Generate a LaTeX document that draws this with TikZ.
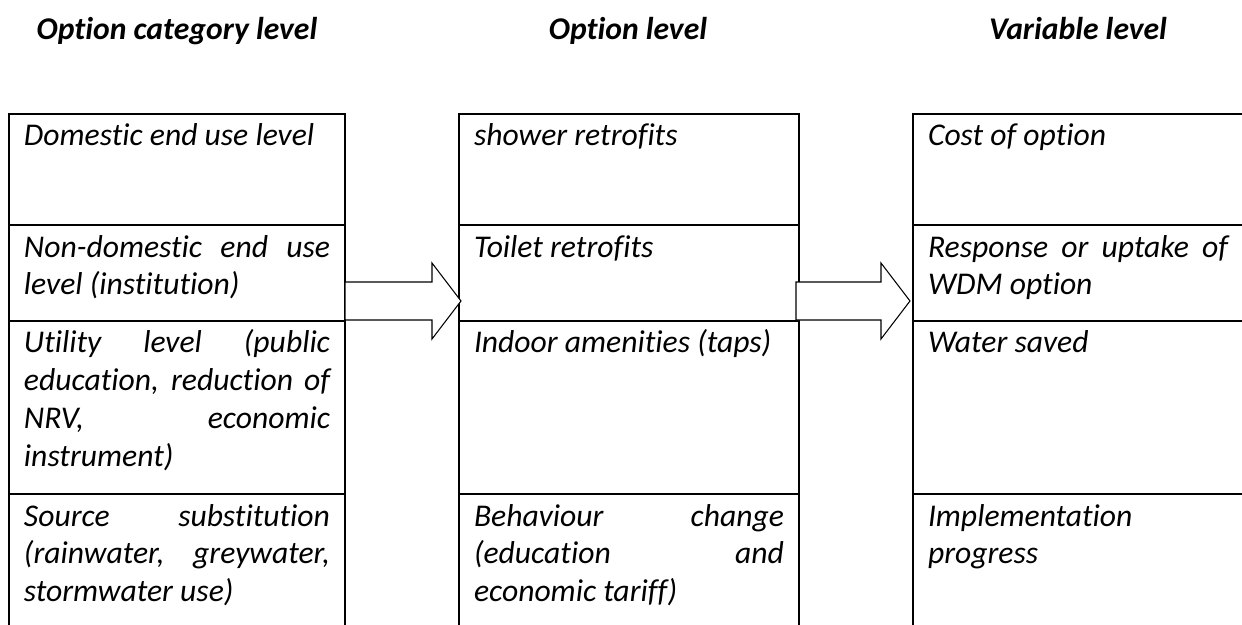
\documentclass[tikz,border=0pt]{standalone}
\usepackage{fontspec}
\setmainfont{Carlito}[Ligatures=CommonOff]
\usetikzlibrary{positioning,calc}

\hyphenpenalty=10000
\exhyphenpenalty=10000

\tikzset{
  cell/.style={draw, line width=1.1pt, rectangle, anchor=north west, outer sep=0pt,
    inner xsep=0.3cm, inner ysep=0pt, align=justify, text height=0.64cm,
    font=\fontsize{18}{21.5}\selectfont\itshape},
  head/.style={anchor=base, font=\fontsize{18}{21.5}\selectfont\bfseries\itshape},
  barrow/.style={draw, fill=white, line width=0.6pt, line join=miter}
}

% block arrow between two named points
\newcommand{\blockarrow}[2]{%
  \draw[barrow] ($(#1)+(0,0.38)$) -- ($(#2)+(-0.58,0.38)$) -- ++(0,0.38) -- (#2)
    -- ++(-0.58,-0.76) -- ++(0,0.38) -- ($(#1)+(0,-0.38)$) -- cycle;}

\begin{document}
\begin{tikzpicture}
    \useasboundingbox (0,0) rectangle (24.84,-12.5);
    \clip (0,0) rectangle (24.84,-12.5);

    % Headers
    \node[head] (h1) at (3.54,-0.8) {Option category level};
    \node[head] (h2) at (12.56,-0.8) {Option level};
    \node[head] (h3) at (21.56,-0.8) {Variable level};

    % Option category column
    \node[cell, text width=6.12cm, text depth=1.58cm] (c11) at (0.18,-2.28) {Domestic end use level};
    \node[cell, text width=6.12cm, text depth=1.28cm, below=0pt of c11.south west, anchor=north west] (c12) {Non-domestic end use\linebreak level (institution)};
    \node[cell, text width=6.12cm, text depth=2.82cm, below=0pt of c12.south west, anchor=north west] (c13) {Utility level (public\linebreak education, reduction of\linebreak NRV, economic\linebreak instrument)};
    \node[cell, text width=6.12cm, text depth=2.6cm, below=0pt of c13.south west, anchor=north west] (c14) {Source substitution\linebreak (rainwater, greywater,\linebreak stormwater use)};

    % Option column
    \node[cell, text width=6.2cm, text depth=1.58cm] (c21) at (9.18,-2.28) {shower retrofits};
    \node[cell, text width=6.2cm, text depth=1.28cm, below=0pt of c21.south west, anchor=north west] (c22) {Toilet retrofits};
    \node[cell, text width=6.2cm, text depth=2.82cm, below=0pt of c22.south west, anchor=north west] (c23) {Indoor amenities (taps)};
    \node[cell, text width=6.2cm, text depth=2.6cm, below=0pt of c23.south west, anchor=north west] (c24) {Behaviour change\linebreak (education and\linebreak economic tariff)};

    % Variable column
    \node[cell, text width=6.0cm, text depth=1.58cm] (c31) at (18.26,-2.28) {Cost of option};
    \node[cell, text width=6.0cm, text depth=1.28cm, below=0pt of c31.south west, anchor=north west] (c32) {Response or uptake of\linebreak WDM option};
    \node[cell, text width=6.0cm, text depth=2.82cm, below=0pt of c32.south west, anchor=north west] (c33) {Water saved};
    \node[cell, text width=6.0cm, text depth=2.6cm, below=0pt of c33.south west, anchor=north west] (c34) {Implementation\newline progress};

    % Arrows between the columns
    \coordinate (a1s) at (c12.east |- 0,-6.02);
    \coordinate (a1e) at ([xshift=0.04cm]c22.west |- 0,-6.02);
    \coordinate (a2s) at ([xshift=-0.06cm]c22.east |- 0,-6.02);
    \coordinate (a2e) at ([xshift=-0.06cm]c32.west |- 0,-6.02);
    \blockarrow{a1s}{a1e}
    \blockarrow{a2s}{a2e}
\end{tikzpicture}
\end{document}
